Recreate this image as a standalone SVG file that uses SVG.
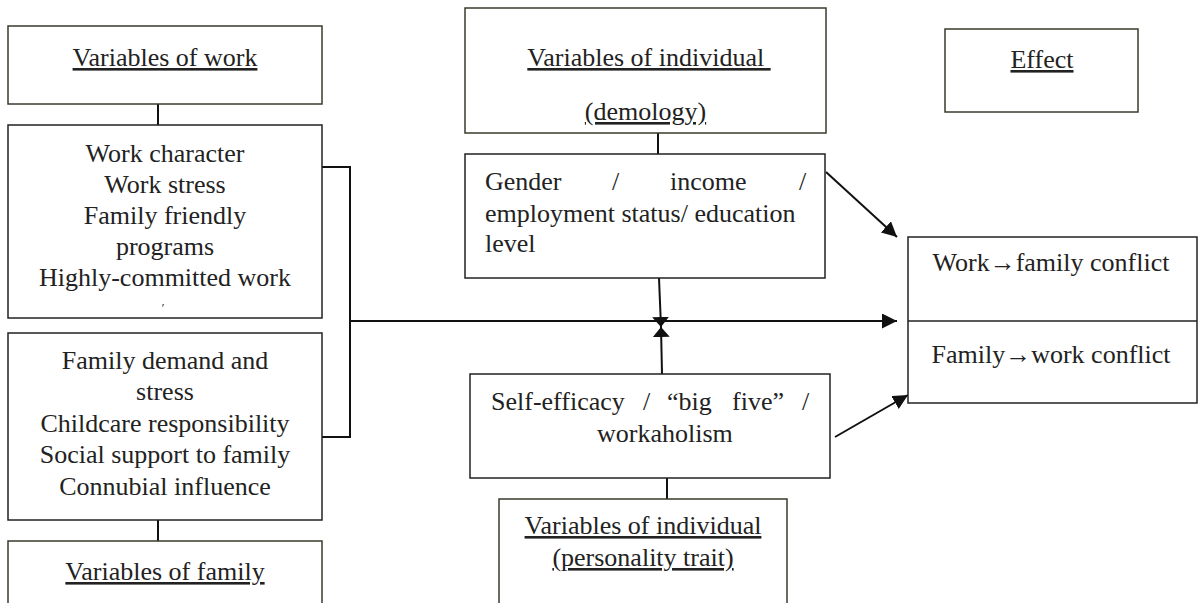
<svg xmlns="http://www.w3.org/2000/svg" width="1203" height="603" viewBox="0 0 1203 603" font-family="Liberation Serif, Tinos, Times New Roman, DejaVu Serif, serif">
<style>
.t{font-size:26px;fill:#222}
.c{text-anchor:middle}
.u{text-decoration:underline}
.hb{fill:#fff;stroke:#3a3a2c;stroke-width:1.5}
.bb{fill:#fff;stroke:#222;stroke-width:1.5}
.ln{fill:none;stroke:#111;stroke-width:2}
</style>
<defs>
<marker id="ah" markerWidth="16" markerHeight="16" refX="15" refY="7.5" orient="auto" markerUnits="userSpaceOnUse">
<path d="M0,0 L15,7.5 L0,15 Z" fill="#111"/>
</marker>
<marker id="ah2" markerWidth="12" markerHeight="18" refX="10" refY="8.5" orient="auto" markerUnits="userSpaceOnUse">
<path d="M0,0 L10,8.5 L0,17 Z" fill="#111"/>
</marker>
</defs>
<rect width="1203" height="603" fill="#fff"/>

<g id="connectors">
<line class="ln" x1="158" y1="104" x2="158" y2="125"/>
<line class="ln" x1="158" y1="520" x2="158" y2="541"/>
<polyline class="ln" points="322,167 350,167 350,437 322,437"/>
<line class="ln" x1="350" y1="321" x2="897" y2="321" marker-end="url(#ah)"/>
<line class="ln" x1="658" y1="133" x2="658" y2="154"/>
<line class="ln" x1="659" y1="278" x2="661" y2="327" marker-end="url(#ah2)"/>
<line class="ln" x1="662" y1="374" x2="661" y2="327" marker-end="url(#ah2)"/>
<line class="ln" x1="667" y1="478" x2="667" y2="499"/>
<line class="ln" x1="826" y1="172" x2="897" y2="237" marker-end="url(#ah)"/>
<line class="ln" x1="835" y1="437" x2="908" y2="395" marker-end="url(#ah)"/>
</g>

<g id="work-header">
<rect class="hb" x="8" y="26" width="314" height="78"/>
<text class="t c u" x="165" y="66">Variables of work</text>
</g>

<g id="work-list">
<rect class="bb" x="8" y="125" width="314" height="193"/>
<text class="t c" x="165" y="162">Work character</text>
<text class="t c" x="165" y="193">Work stress</text>
<text class="t c" x="165" y="224">Family friendly</text>
<text class="t c" x="165" y="255">programs</text>
<text class="t c" x="165" y="286">Highly-committed work</text>
<text class="t c" x="163" y="312" style="font-size:12px">′</text>
</g>

<g id="family-list">
<rect class="bb" x="8" y="333" width="314" height="187"/>
<text class="t c" x="165" y="369">Family demand and</text>
<text class="t c" x="165" y="400">stress</text>
<text class="t c" x="165" y="432">Childcare responsibility</text>
<text class="t c" x="165" y="463">Social support to family</text>
<text class="t c" x="165" y="495">Connubial influence</text>
</g>

<g id="family-header">
<rect class="hb" x="8" y="541" width="314" height="70"/>
<text class="t c u" x="165" y="580">Variables of family</text>
</g>

<g id="demology-header">
<rect class="hb" x="465" y="8" width="361" height="125"/>
<text class="t c u" x="649" y="66">Variables of individual&#160;</text>
<text class="t c u" x="645.5" y="120">(demology)</text>
</g>

<g id="demology-list">
<rect class="bb" x="465" y="154" width="360" height="124"/>
<text class="t" x="485" y="190">Gender</text>
<text class="t" x="612" y="190">/</text>
<text class="t" x="670" y="190">income</text>
<text class="t" x="799" y="190">/</text>
<text class="t" x="485" y="222">employment status/ education</text>
<text class="t" x="485" y="252">level</text>
</g>

<g id="personality-list">
<rect class="bb" x="470" y="374" width="360" height="104"/>
<text class="t" x="491" y="410">Self-efficacy</text>
<text class="t" x="643" y="410">/</text>
<text class="t" x="667" y="410">“big</text>
<text class="t" x="732" y="410">five”</text>
<text class="t" x="802" y="410">/</text>
<text class="t" x="597" y="442">workaholism</text>
</g>

<g id="personality-header">
<rect class="hb" x="499" y="499" width="288" height="112"/>
<text class="t c u" x="643" y="534">Variables of individual</text>
<text class="t c u" x="643" y="566">(personality trait)</text>
</g>

<g id="effect-header">
<rect class="hb" x="945" y="29" width="193" height="83"/>
<text class="t c u" x="1042" y="68">Effect</text>
</g>

<g id="conflict">
<rect class="bb" x="908" y="237" width="289" height="166"/>
<line x1="908" y1="321" x2="1197" y2="321" stroke="#222" stroke-width="1.5"/>
<text class="t c" x="1051" y="271">Work→family conflict</text>
<text class="t c" x="1051" y="363">Family→work conflict</text>
</g>
</svg>
